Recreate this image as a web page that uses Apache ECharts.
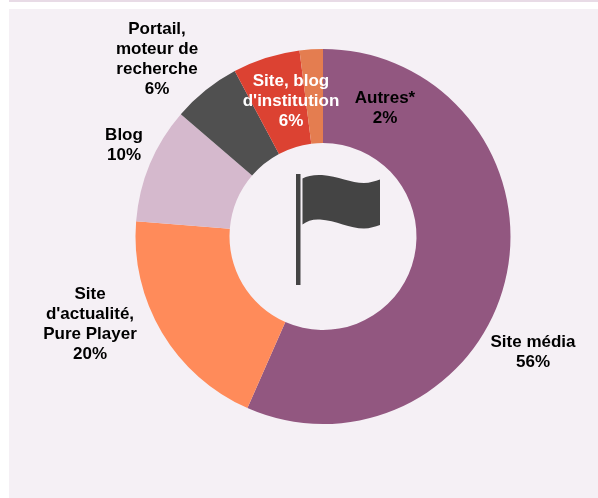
<!DOCTYPE html>
<html><head><meta charset="utf-8">
<style>html,body{margin:0;padding:0;background:#fff}#c{width:598px;height:498px}</style>
<script src="https://cdn.jsdelivr.net/npm/echarts@6/dist/echarts.min.js"></script>
</head><body><div id="c"></div>
<script>
const categories = ["Site média","Site\nd'actualité,\nPure Player","Blog","Portail,\nmoteur de\nrecherche","Site, blog\nd'institution","Autres*"];
const values = [56.6,19.7,10,5.9,5.8,2];
const shownPercents = ["56%","20%","10%","6%","6%","2%"];
const colors = ["#925780","#ff8b5a","#d5b9cd","#505050","#dc4232","#e47d50"];
const labelColors = ["#000","#000","#000","#000","#fff","#000"];
const labelCentres = [[533,352],[90,324],[124,145],[157,59],[291,101],[385,108]];

echarts.graphic.registerShape('flagShape', echarts.graphic.extendShape({
  buildPath(ctx){
    ctx.moveTo(302.5,178.5);
    ctx.bezierCurveTo(307,176,314,174.5,322,175);
    ctx.bezierCurveTo(338,176,351,183,364,183);
    ctx.bezierCurveTo(370,183,375,181,380,179.5);
    ctx.lineTo(380,225);
    ctx.bezierCurveTo(375,226.5,370,228.5,364,228.5);
    ctx.bezierCurveTo(350,228.5,336,220.5,320,219.5);
    ctx.bezierCurveTo(313,219,307,221,302.5,224.5);
    ctx.closePath();
  }
}));

const chart = echarts.init(document.getElementById('c'), null, {renderer:'canvas'});
chart.setOption({
  animation:false,
  backgroundColor:'#fff',
  graphic:[
    {type:'rect',z:-1,shape:{x:9,y:9,width:589,height:489},style:{fill:'#f5f0f5'}},
    {type:'rect',z:-1,shape:{x:9,y:0,width:589,height:2},style:{fill:'#e8dbe6'}},
    {type:'rect',z:10,shape:{x:296,y:174,width:4.5,height:111},style:{fill:'#444'}},
    {type:'flagShape',z:10,shape:{},style:{fill:'#444'}}
  ],
  series:[{
    type:'pie',
    center:[323,236.5],
    radius:[93.5,187.5],
    startAngle:90,
    clockwise:true,
    avoidLabelOverlap:false,
    color:colors,
    labelLine:{show:false},
    data:categories.map((n,i)=>({
      name:n,value:values[i],
      label:{show:true,position:'inside',formatter:n+'\n'+shownPercents[i],color:labelColors[i],
        fontFamily:'"Liberation Sans", Arial, sans-serif',fontWeight:'bold',fontSize:17,lineHeight:20,align:'center',verticalAlign:'middle'}
    })),
    labelLayout:p=>({x:labelCentres[p.dataIndex][0],y:labelCentres[p.dataIndex][1],align:'center',verticalAlign:'middle'}),
    emphasis:{disabled:true}
  }]
});
</script></body></html>
